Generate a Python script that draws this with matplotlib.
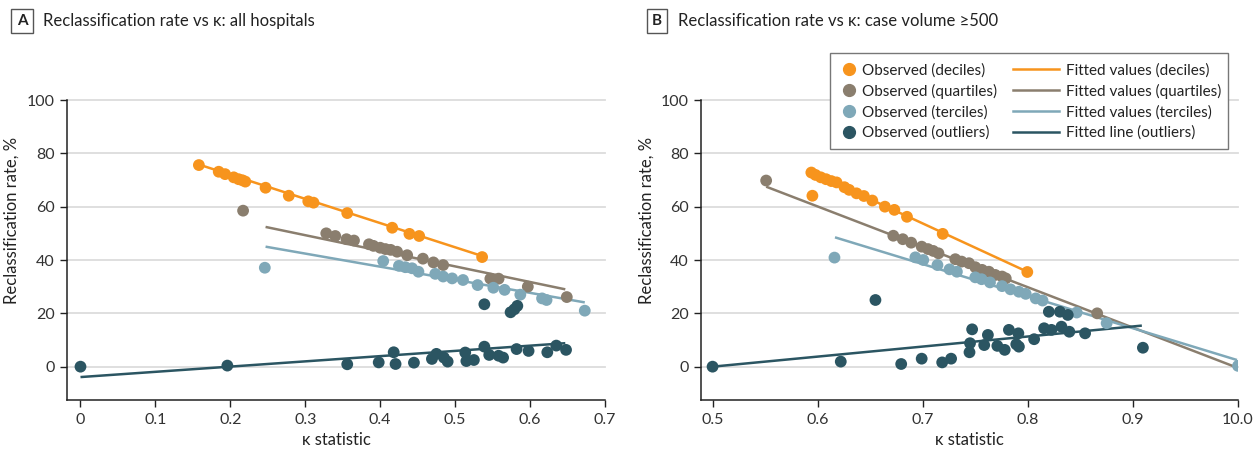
import numpy as np
import matplotlib
matplotlib.use('Agg')
import matplotlib.pyplot as plt
from matplotlib.lines import Line2D
from matplotlib.patches import Rectangle

plt.rcParams['font.family'] = ['Lato', 'DejaVu Sans']

# Colours
C_DEC = '#F7941D'
C_QUA = '#8A7E6E'
C_TER = '#7FA8B8'
C_OUT = '#2B5562'

# ---------------- Panel A data (all hospitals) ----------------
a_dec_x = [0.158, 0.1845, 0.193, 0.2045, 0.211, 0.216, 0.220, 0.247, 0.278, 0.304, 0.311,
           0.356, 0.416, 0.439, 0.452, 0.536]
a_dec_y = [75.6, 73.1, 72.2, 71.0, 70.3, 69.9, 69.4, 67.1, 64.1, 62.0, 61.5,
           57.6, 52.1, 49.8, 49.0, 41.1]
a_dec_fit_x = [0.158, 0.536]
a_dec_fit_y = [75.8, 41.5]

a_qua_x = [0.217, 0.328, 0.340, 0.355, 0.365, 0.385, 0.391, 0.400, 0.407, 0.414, 0.4225,
           0.436, 0.457, 0.471, 0.484, 0.547, 0.558, 0.597, 0.649]
a_qua_y = [58.5, 50.0, 49.0, 47.8, 47.3, 45.9, 45.3, 44.6, 44.1, 43.8, 43.1,
           41.8, 40.5, 39.1, 38.1, 33.0, 33.0, 30.0, 26.1]
a_qua_fit_x = [0.247, 0.647]
a_qua_fit_y = [52.4, 29.0]

a_ter_x = [0.246, 0.404, 0.425, 0.4335, 0.4425, 0.451, 0.4735, 0.484, 0.496, 0.5105,
           0.530, 0.551, 0.566, 0.587, 0.616, 0.622, 0.673]
a_ter_y = [37.1, 39.6, 37.8, 37.3, 36.9, 35.6, 34.8, 33.8, 33.1, 32.5,
           30.6, 29.6, 28.8, 27.0, 25.6, 25.0, 21.0]
a_ter_fit_x = [0.247, 0.673]
a_ter_fit_y = [45.0, 24.1]

a_out_x = [0.0, 0.196, 0.356, 0.398, 0.418, 0.4205, 0.445, 0.469, 0.475, 0.485, 0.490,
           0.5135, 0.515, 0.525, 0.539, 0.5455, 0.558, 0.564, 0.582, 0.598, 0.623,
           0.635, 0.648, 0.539, 0.574, 0.579, 0.583]
a_out_y = [0.0, 0.4, 0.9, 1.6, 5.4, 1.0, 1.5, 2.9, 4.8, 3.4, 1.9,
           5.3, 2.1, 2.5, 7.5, 4.4, 4.1, 3.4, 6.6, 5.9, 5.4,
           7.9, 6.3, 23.4, 20.4, 21.5, 22.8]
a_out_fit_x = [0.0, 0.647]
a_out_fit_y = [-3.9, 8.8]

# ---------------- Panel B data (case volume >=500) ----------------
b_dec_x = [0.594, 0.598, 0.603, 0.608, 0.613, 0.618, 0.6255, 0.630, 0.637, 0.644,
           0.652, 0.664, 0.673, 0.685, 0.719, 0.7995, 0.595]
b_dec_y = [72.8, 71.9, 71.0, 70.3, 69.6, 69.1, 67.3, 66.3, 65.0, 64.0,
           62.3, 60.0, 58.8, 56.2, 49.8, 35.5, 64.1]
b_dec_fit_x = [0.594, 0.80]
b_dec_fit_y = [73.0, 35.5]

b_qua_x = [0.551, 0.672, 0.681, 0.689, 0.699, 0.705, 0.710, 0.715, 0.731, 0.737,
           0.744, 0.750, 0.7565, 0.763, 0.769, 0.7755, 0.779, 0.866]
b_qua_y = [69.8, 49.1, 47.8, 46.5, 45.0, 44.1, 43.4, 42.5, 40.3, 39.4,
           38.8, 37.3, 36.3, 35.6, 34.4, 33.8, 33.1, 20.0]
b_qua_fit_x = [0.551, 1.0]
b_qua_fit_y = [67.5, -0.5]

b_ter_x = [0.616, 0.693, 0.7005, 0.714, 0.7255, 0.7325, 0.750, 0.756, 0.764, 0.7755,
           0.7835, 0.7915, 0.798, 0.8075, 0.814, 0.8465, 0.875, 1.0]
b_ter_y = [40.9, 41.0, 40.0, 38.1, 36.5, 35.6, 33.5, 32.8, 31.6, 30.2,
           29.0, 28.1, 27.3, 25.6, 24.8, 20.3, 16.3, 0.3]
b_ter_fit_x = [0.6165, 0.999]
b_ter_fit_y = [48.5, 2.5]

b_out_x = [0.5, 0.622, 0.655, 0.6795, 0.699, 0.7185, 0.727, 0.7445, 0.745, 0.747,
           0.7585, 0.762, 0.771, 0.778, 0.782, 0.789, 0.791, 0.7915, 0.806, 0.8155,
           0.820, 0.8225, 0.8305, 0.832, 0.838, 0.8395, 0.8545, 0.9095]
b_out_y = [0.0, 1.9, 25.0, 1.0, 3.0, 1.6, 3.0, 5.4, 8.8, 14.0,
           8.1, 11.9, 7.8, 6.3, 13.8, 8.4, 12.5, 7.5, 10.3, 14.4,
           20.6, 13.8, 20.6, 15.0, 19.4, 13.1, 12.5, 7.1]
b_out_fit_x = [0.5, 0.9085]
b_out_fit_y = [0.0, 15.4]

y_ticks = [0, 20, 40, 60, 80, 100]
a_ticks = [0, 0.1, 0.2, 0.3, 0.4, 0.5, 0.6, 0.7]
a_ticklabels = ['0', '0.1', '0.2', '0.3', '0.4', '0.5', '0.6', '0.7']
b_ticks = [0.5, 0.6, 0.7, 0.8, 0.9, 1.0]
b_ticklabels = ['0.5', '0.6', '0.7', '0.8', '0.9', '10.0']

W, H = 1256, 451
fig = plt.figure(figsize=(W / 100, H / 100), dpi=100)
axA = fig.add_axes([67 / W, 1 - 400 / H, 538 / W, 300 / H])
axB = fig.add_axes([701 / W, 1 - 400 / H, 537 / W, 300 / H])

MS = 72


def draw_panel(ax, dec, qua, ter, out, xlim, xticks, xticklabels):
    for yt in y_ticks:
        ax.axhline(yt, color='#dcdcdc', lw=1.3, zorder=0, clip_on=False)
    series = [(dec, C_DEC), (qua, C_QUA), (ter, C_TER), (out, C_OUT)]
    for (x, y, fx, fy), c in series:
        ax.plot(fx, fy, color=c, lw=1.8, zorder=2, solid_capstyle='butt')
    for (x, y, fx, fy), c in series:
        ax.scatter(x, y, s=MS, color=c, edgecolors='none', zorder=3)
    ax.set_xlim(*xlim)
    ax.set_ylim(-12.5, 100)
    ax.set_xticks(xticks)
    ax.set_xticklabels(xticklabels)
    ax.set_yticks(y_ticks)
    for s in ['top', 'right']:
        ax.spines[s].set_visible(False)
    for s in ['left', 'bottom']:
        ax.spines[s].set_color('#222222')
        ax.spines[s].set_linewidth(1.1)
    ax.tick_params(length=5, width=1, color='#222222', labelsize=11.5,
                   labelcolor='#333333', pad=4)
    ax.set_xlabel('κ statistic', fontsize=12, color='#222222', labelpad=4)
    ax.set_ylabel('Reclassification rate, %', fontsize=12, color='#222222')


draw_panel(axA,
           (a_dec_x, a_dec_y, a_dec_fit_x, a_dec_fit_y),
           (a_qua_x, a_qua_y, a_qua_fit_x, a_qua_fit_y),
           (a_ter_x, a_ter_y, a_ter_fit_x, a_ter_fit_y),
           (a_out_x, a_out_y, a_out_fit_x, a_out_fit_y),
           (-0.018, 0.7), a_ticks, a_ticklabels)
draw_panel(axB,
           (b_dec_x, b_dec_y, b_dec_fit_x, b_dec_fit_y),
           (b_qua_x, b_qua_y, b_qua_fit_x, b_qua_fit_y),
           (b_ter_x, b_ter_y, b_ter_fit_x, b_ter_fit_y),
           (b_out_x, b_out_y, b_out_fit_x, b_out_fit_y),
           (0.489, 1.0), b_ticks, b_ticklabels)
axA.yaxis.set_label_coords((20 - 67) / 538, 0.6)
axB.yaxis.set_label_coords((655 - 701) / 537, 0.6)

# Panel titles with boxed letters
box = dict(boxstyle='square,pad=0.35', fc='white', ec='#555555', lw=1)
fig.text(22 / W, 1 - 21 / H, 'A', fontsize=11, fontweight='bold', color='#222222',
         ha='center', va='center', bbox=box)
fig.text(43 / W, 1 - 21 / H, 'Reclassification rate vs κ: all hospitals',
         fontsize=12, color='#222222', ha='left', va='center')
fig.text(657 / W, 1 - 21 / H, 'B', fontsize=11, fontweight='bold', color='#222222',
         ha='center', va='center', bbox=box)
fig.text(678 / W, 1 - 21 / H, 'Reclassification rate vs κ: case volume ≥500',
         fontsize=12, color='#222222', ha='left', va='center')

# Legend: frame + two single-column legends
labels_obs = ['Observed (deciles)', 'Observed (quartiles)', 'Observed (terciles)',
              'Observed (outliers)']
labels_fit = ['Fitted values (deciles)', 'Fitted values (quartiles)',
              'Fitted values (terciles)', 'Fitted line (outliers)']
colors = [C_DEC, C_QUA, C_TER, C_OUT]

fig.patches.append(Rectangle((830 / W, 1 - 149 / H), 398 / W, 96 / H,
                             transform=fig.transFigure, fc='white', ec='#777777',
                             lw=1, zorder=4))
h_obs = [Line2D([], [], ls='none', marker='o', ms=8.5, color=c) for c in colors]
h_fit = [Line2D([], [], lw=1.8, color=c) for c in colors]
leg_kw = dict(loc='upper left', fontsize=11, frameon=False, borderpad=0,
              borderaxespad=0, labelspacing=0.41)
leg1 = fig.legend(h_obs, labels_obs, bbox_to_anchor=(841 / W, 1 - 63 / H),
                  handlelength=1.0, handletextpad=0.35, **leg_kw)
leg2 = fig.legend(h_fit, labels_fit, bbox_to_anchor=(1013 / W, 1 - 63 / H),
                  handlelength=3.0, handletextpad=0.45, **leg_kw)
for leg in (leg1, leg2):
    leg.set_zorder(5)
    for t in leg.get_texts():
        t.set_color('#222222')

fig.savefig('out.png', dpi=100)
